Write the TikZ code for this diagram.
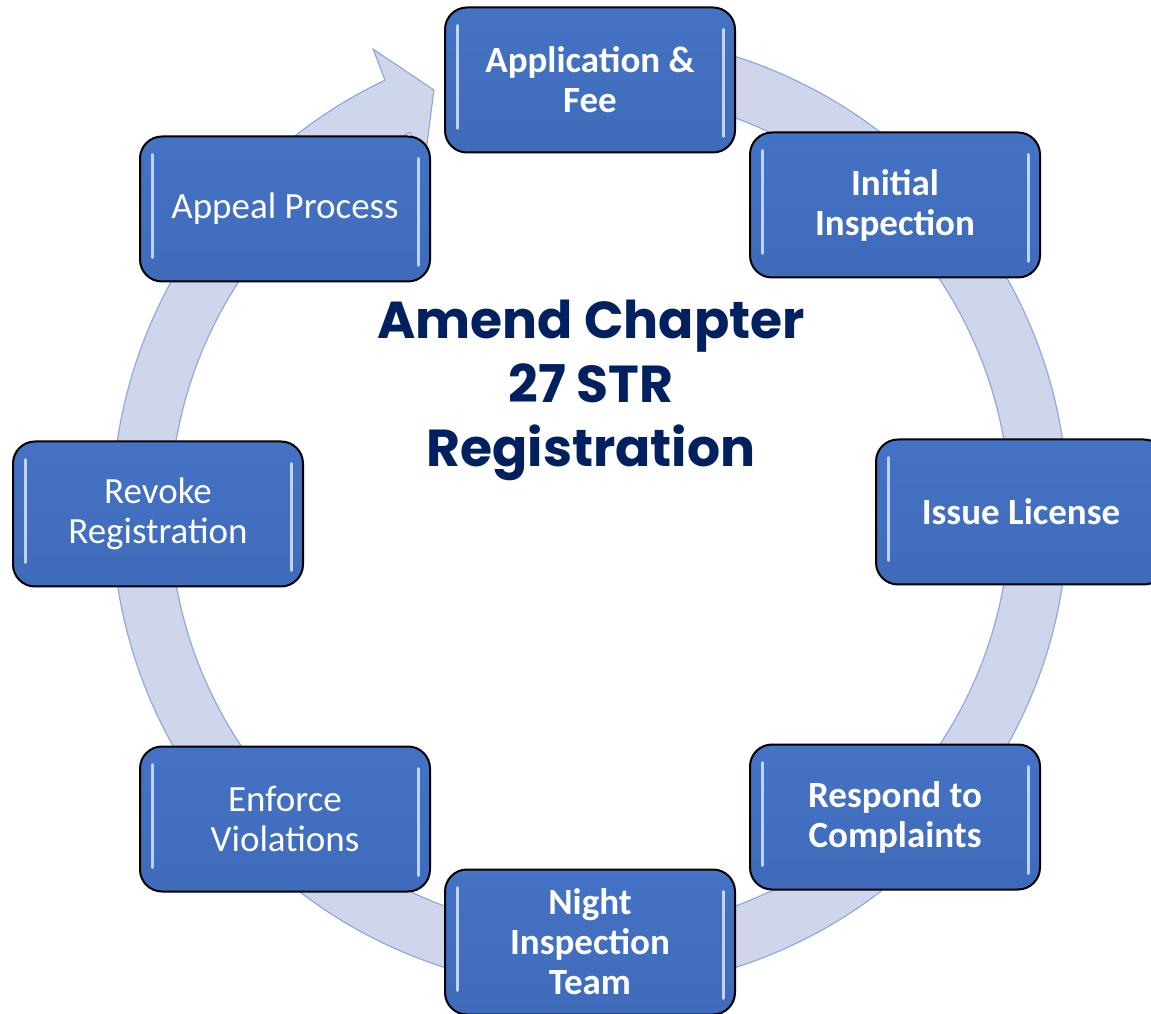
\documentclass[tikz,border=0pt]{standalone}
\usepackage{fontspec}
\setmainfont{Carlito}
\newfontfamily\titlefont{Poppins}
\usetikzlibrary{calc}

\definecolor{boxblue}{HTML}{4472C4}
\definecolor{boxdark}{HTML}{3F6BBA}
\definecolor{ringfill}{HTML}{CFD5EA}
\definecolor{ringline}{HTML}{8FAADC}
\definecolor{hilite}{HTML}{BFD3F5}
\definecolor{navy}{HTML}{002060}

\begin{document}
\begin{tikzpicture}[x=0.5pt,y=0.5pt,
  every node/.style={align=center},
  stage/.style={rectangle,draw=black,line width=1pt,rounded corners=11pt,
                minimum width=145pt,minimum height=72.5pt,inner sep=2pt,
                top color=boxblue,middle color=boxblue,bottom color=boxdark,
                text=white,font=\fontsize{18.5}{20}\selectfont,
                path picture={
                  \draw[hilite,line width=1.5pt,line cap=round]
                    ([xshift=6pt,yshift=-9pt]path picture bounding box.north west)
                    -- ([xshift=6pt,yshift=12pt]path picture bounding box.south west);
                  \draw[hilite,line width=1.5pt,line cap=round]
                    ([xshift=-6pt,yshift=-11pt]path picture bounding box.north east)
                    -- ([xshift=-6pt,yshift=8pt]path picture bounding box.south east);
                }},
  stagebf/.style={stage,font=\fontsize{18.5}{20}\selectfont\bfseries},
  ring/.style={fill=ringfill,draw=ringline,line width=0.6pt},
  title/.style={text=navy,font=\titlefont\bfseries\fontsize{26}{32}\selectfont},
]
\useasboundingbox (0,0) rectangle (1151,1013);

% cycle arrow behind the stages
\draw[ring,shift={(590,501)}] (88:478) arc[start angle=88,end angle=-244.6,radius=478]
  -- (-244.9:511) -- (-249.7:450) -- (-244.9:389) -- (-244.6:420)
  arc[start angle=-244.6,end angle=88,radius=420] -- cycle;

\node[title]   at (591, 623) (hub)     {Amend Chapter\\27 STR\\Registration};

\node[stagebf] at (590, 933) (apply)   {Application \&\\Fee};
\node[stagebf] at (895, 808) (inspect) {Initial\\Inspection};
\node[stagebf] at (1021,501) (license) {Issue License};
\node[stagebf] at (895, 196) (respond) {Respond to\\Complaints};
\node[stagebf] at (590,  71) (night)   {Night\\Inspection\\Team};
\node[stage]   at (285, 194) (enforce) {Enforce\\Violations};
\node[stage]   at (158, 499) (revoke)  {Revoke\\Registration};
\node[stage]   at (285, 804) (appeal)  {Appeal Process};
\end{tikzpicture}
\end{document}
